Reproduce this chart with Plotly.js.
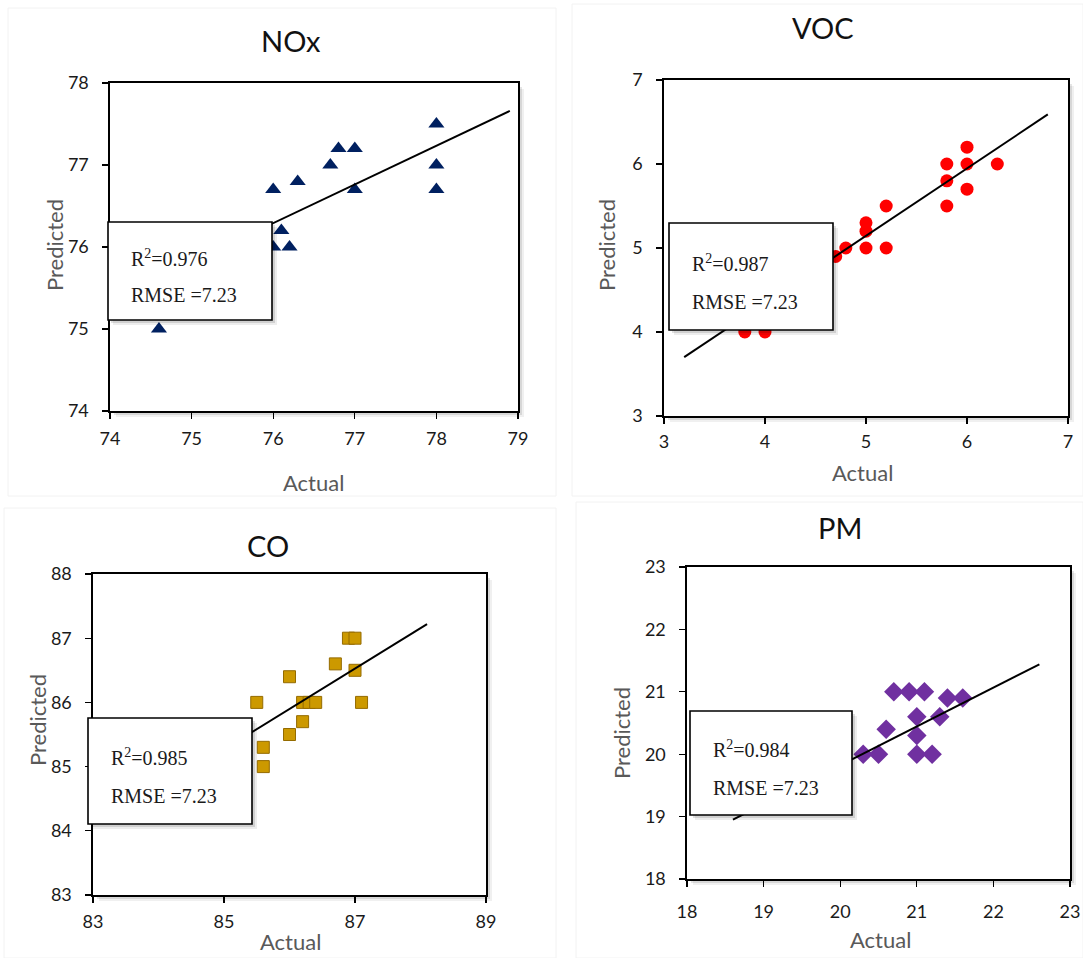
<!DOCTYPE html>
<html><head><meta charset="utf-8">
<script src="https://cdn.plot.ly/plotly-3.0.1.min.js"></script>
<style>html,body{margin:0;padding:0;background:#fff}#chart{width:1083px;height:958px}</style>
</head><body><div id="chart"></div>
<script>
// ---- data ----
const noxActual = [74.6, 76.0, 76.0, 76.1, 76.2, 76.3, 76.7, 76.8, 77.0, 77.0, 78.0, 78.0, 78.0];
const noxPred   = [75.0, 76.7, 76.0, 76.2, 76.0, 76.8, 77.0, 77.2, 77.2, 76.7, 77.5, 77.0, 76.7];
const noxFitX = [74.6, 78.9];
const noxFitY = [75.63, 77.66];

const vocActual = [3.8, 4.0, 4.7, 4.8, 5.0, 5.0, 5.0, 5.2, 5.2, 5.8, 5.8, 5.8, 6.0, 6.0, 6.0, 6.3];
const vocPred   = [4.0, 4.0, 4.9, 5.0, 5.3, 5.2, 5.0, 5.5, 5.0, 6.0, 5.8, 5.5, 6.2, 6.0, 5.7, 6.0];
const vocFitX = [3.2, 6.8];
const vocFitY = [3.70, 6.59];

const coActual = [85.5, 85.6, 85.6, 86.0, 86.0, 86.2, 86.3, 86.4, 86.2, 86.7, 86.9, 87.0, 87.0, 87.1];
const coPred   = [86.0, 85.3, 85.0, 86.4, 85.5, 86.0, 86.0, 86.0, 85.7, 86.6, 87.0, 87.0, 86.5, 86.0];
const coFitX = [84.0, 88.1];
const coFitY = [84.64, 87.22];

const pmActual = [20.3, 20.5, 20.6, 20.7, 20.9, 21.1, 21.0, 21.0, 21.0, 21.2, 21.3, 21.4, 21.6];
const pmPred   = [20.0, 20.0, 20.4, 21.0, 21.0, 21.0, 20.6, 20.3, 20.0, 20.0, 20.6, 20.9, 20.9];
const pmFitX = [18.6, 22.6];
const pmFitY = [18.95, 21.44];

const panelTitles = ['NOx', 'VOC', 'CO', 'PM'];
const r2Labels = ['0.976', '0.987', '0.985', '0.984'];
const rmseLabels = ['7.23', '7.23', '7.23', '7.23'];
const xAxisLabel = 'Actual';
const yAxisLabel = 'Predicted';

// ---- layout helpers (pixel -> paper) ----
const W = 1083, H = 958;
const px = x => x / W, py = y => 1 - y / H;

const panels = [
  {id:'', frame:[110, 83, 518, 411], xr:[74,79], yr:[74,78], xdt:1, ydt:1, xso:5,
   title:[291, 41], xt:[313, 483], yt:[55, 245], box:[108, 222, 272, 320],
   ax:actualOf(0), pr:predOf(0), fx:noxFitX, fy:noxFitY,
   marker:{symbol:'triangle-up', size:14, color:'#002060'}},
  {id:'2', frame:[664, 80, 1068, 416], xr:[3,7], yr:[3,7], xdt:1, ydt:1, xso:3,
   title:[823, 28], xt:[862, 472], yt:[607, 245], box:[669, 223, 833, 330],
   ax:actualOf(1), pr:predOf(1), fx:vocFitX, fy:vocFitY,
   marker:{symbol:'circle', size:13, color:'#ff0000'}},
  {id:'3', frame:[93, 574, 486, 895], xr:[83,89], yr:[83,88], xdt:2, ydt:1, xso:4,
   title:[268, 545], xt:[290, 941], yt:[37, 720], box:[88, 718, 252, 824],
   ax:actualOf(2), pr:predOf(2), fx:coFitX, fy:coFitY,
   marker:{symbol:'square', size:12, color:'#cc9900', line:{color:'#946b00', width:1}}},
  {id:'4', frame:[687, 567, 1070, 879], xr:[18,23], yr:[18,23], xdt:1, ydt:1, xso:10,
   title:[840, 527], xt:[880, 939], yt:[621, 733], box:[690, 711, 852, 815],
   ax:actualOf(3), pr:predOf(3), fx:pmFitX, fy:pmFitY,
   marker:{symbol:'diamond', size:15, color:'#7030a0'}}
];
function actualOf(i){ return [noxActual, vocActual, coActual, pmActual][i]; }
function predOf(i){ return [noxPred, vocPred, coPred, pmPred][i]; }

const traces = [], shapes = [], annotations = [];
const layout = {
  width: W, height: H, margin:{l:0, r:0, t:0, b:0},
  paper_bgcolor:'#ffffff', plot_bgcolor:'rgba(0,0,0,0)',
  showlegend:false, font:{family:'Lato, "DejaVu Sans", sans-serif', color:'#222'}
};

// faint outer chart-area borders
[[8, 8, 556, 496], [572, 4, 1083, 496], [4, 508, 556, 958], [576, 502, 1083, 958]].forEach(r => {
  shapes.push({type:'rect', xref:'paper', yref:'paper', layer:'below',
    x0:px(r[0]), x1:px(r[2]), y0:py(r[3]), y1:py(r[1]),
    line:{color:'#f2f2f2', width:1}, fillcolor:'rgba(0,0,0,0)'});
});

panels.forEach((p, i) => {
  const xa = 'x' + p.id, ya = 'y' + p.id;
  const [fx0, fy0, fx1, fy1] = p.frame;
  const common = {showline:true, mirror:true, linecolor:'#000', linewidth:1.6,
    ticks:'outside', ticklen:6, tickwidth:1.3, tickcolor:'#000',
    showgrid:false, zeroline:false, fixedrange:true,
    tickfont:{family:'Lato, sans-serif', size:18, color:'#1a1a1a'}};
  layout['xaxis' + p.id] = Object.assign({}, common, {
    domain:[px(fx0), px(fx1)], range:p.xr, dtick:p.xdt, tick0:p.xr[0],
    anchor:ya, ticklabelstandoff:p.xso});
  layout['yaxis' + p.id] = Object.assign({}, common, {
    domain:[py(fy1), py(fy0)], range:p.yr, dtick:p.ydt, tick0:p.yr[0],
    anchor:xa, ticklabelstandoff:10});

  // plot-frame drop shadow + white plot area
  [[6, 0.06], [4, 0.10], [2, 0.14]].forEach(([o, a]) => {
    shapes.push({type:'rect', xref:'paper', yref:'paper', layer:'below',
      x0:px(fx0 + o), x1:px(fx1 + o), y0:py(fy1 + o), y1:py(fy0 + o),
      line:{width:0}, fillcolor:'rgba(0,0,0,' + a + ')'});
  });
  shapes.push({type:'rect', xref:'paper', yref:'paper', layer:'below',
    x0:px(fx0), x1:px(fx1), y0:py(fy1), y1:py(fy0),
    line:{width:0}, fillcolor:'#ffffff'});

  // scatter points
  traces.push({type:'scatter', mode:'markers', x:p.ax, y:p.pr, xaxis:xa, yaxis:ya,
    marker:p.marker, cliponaxis:false, hoverinfo:'x+y'});
  // fit line
  traces.push({type:'scatter', mode:'lines', x:p.fx, y:p.fy, xaxis:xa, yaxis:ya,
    line:{color:'#000', width:2}, hoverinfo:'skip'});

  // statistics box with shadow
  const [bx0, by0, bx1, by1] = p.box;
  [[5, 0.07], [3, 0.12]].forEach(([o, a]) => {
    shapes.push({type:'rect', xref:'paper', yref:'paper', layer:'above',
      x0:px(bx0 + o), x1:px(bx1 + o), y0:py(by1 + o), y1:py(by0 + o),
      line:{width:0}, fillcolor:'rgba(0,0,0,' + a + ')'});
  });
  shapes.push({type:'rect', xref:'paper', yref:'paper', layer:'above',
    x0:px(bx0), x1:px(bx1), y0:py(by1), y1:py(by0),
    line:{color:'#000', width:1.6}, fillcolor:'#ffffff'});

  const serif = {family:'"Liberation Serif", "DejaVu Serif", serif', size:20, color:'#1a1a1a'};
  const tx = bx0 + 21;
  const bh = by1 - by0;
  annotations.push({xref:'paper', yref:'paper', x:px(tx), y:py(by0 + bh * 0.37),
    xanchor:'left', yanchor:'middle', showarrow:false, font:serif,
    text:'R<sup>2</sup>=' + r2Labels[i]});
  annotations.push({xref:'paper', yref:'paper', x:px(tx), y:py(by0 + bh * 0.74),
    xanchor:'left', yanchor:'middle', showarrow:false, font:serif,
    text:'RMSE =' + rmseLabels[i]});

  // titles
  annotations.push({xref:'paper', yref:'paper', x:px(p.title[0]), y:py(p.title[1]),
    xanchor:'center', yanchor:'middle', showarrow:false,
    font:{family:'Lato, sans-serif', size:29, color:'#111'}, text:panelTitles[i]});
  annotations.push({xref:'paper', yref:'paper', x:px(p.xt[0]), y:py(p.xt[1]),
    xanchor:'center', yanchor:'middle', showarrow:false,
    font:{family:'Lato, sans-serif', size:22, color:'#595959'}, text:xAxisLabel});
  annotations.push({xref:'paper', yref:'paper', x:px(p.yt[0]), y:py(p.yt[1]),
    xanchor:'center', yanchor:'middle', showarrow:false, textangle:-90,
    font:{family:'Lato, sans-serif', size:22, color:'#595959'}, text:yAxisLabel});
});

layout.shapes = shapes;
layout.annotations = annotations;
Plotly.newPlot('chart', traces, layout, {displayModeBar:false, staticPlot:true});
</script>
</body></html>
